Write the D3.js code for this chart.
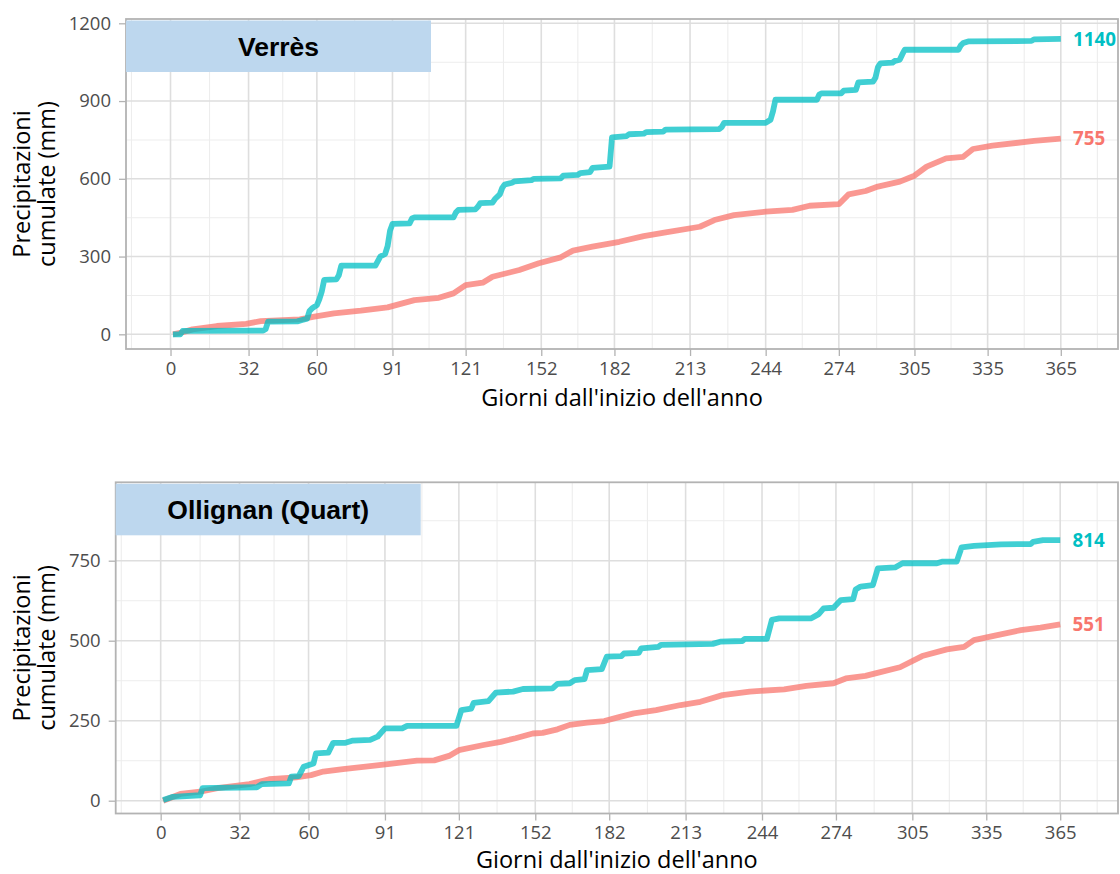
<!DOCTYPE html>
<html>
<head>
<meta charset="utf-8">
<script src="https://cdn.jsdelivr.net/npm/d3@7"></script>
<style>
  html, body { margin: 0; padding: 0; background: #ffffff; }
  svg { display: block; }
</style>
</head>
<body>
<svg id="chart" width="1120" height="874"></svg>
<script>
// Day-of-year breaks (first day of each month) used on the x axis
const dayBreaks = [0, 32, 60, 91, 121, 152, 182, 213, 244, 274, 305, 335, 365];

// Verrès: cumulative precipitation of the year (mm)
const verresObsDays = [1, 4, 5, 38, 39, 40, 52, 54, 56, 57, 58, 60, 61, 62, 63, 68, 69, 70, 84, 86, 88, 89, 90, 91, 98, 99, 100,
  116, 117, 118, 125, 126, 127, 132, 133, 135, 136, 137, 140, 141, 148, 149, 160, 161, 167, 168, 172, 173, 180, 181,
  187, 188, 194, 195, 202, 203, 225, 226, 227, 244, 245, 246, 247, 248, 265, 266, 267, 275, 276, 281, 282, 288, 289,
  290, 291, 296, 297, 299, 300, 301, 323, 324, 325, 327, 353, 354, 365];
const verresObsMm = [0, 0, 13, 14, 20, 49, 50, 55, 60, 90, 100, 113, 135, 165, 210, 212, 228, 265, 265, 300, 310, 340, 400, 426, 428, 447, 451,
  451, 470, 480, 482, 492, 506, 508, 522, 540, 565, 578, 585, 590, 595, 600, 602, 612, 615, 622, 626, 642, 647, 760,
  765, 772, 774, 780, 782, 790, 792, 800, 816, 816, 822, 828, 860, 905, 905, 925, 930, 930, 940, 943, 972, 975, 990,
  1030, 1045, 1048, 1055, 1060, 1080, 1098, 1098, 1115, 1124, 1130, 1132, 1138, 1140];

// Verrès: average cumulative precipitation (mm)
const verresAvgDays = [1, 5, 9, 19, 31, 37, 53, 59, 67, 78, 89, 100, 110, 116, 121, 128, 132, 143, 151, 160, 165, 173, 184,
  194, 203, 217, 223, 231, 244, 255, 262, 274, 278, 285, 290, 299, 305, 310, 318, 325, 329, 337, 354, 365];
const verresAvgMm = [0, 8, 19, 32, 40, 51, 58, 68, 81, 91, 104, 132, 141, 158, 190, 199, 222, 248, 274, 297, 323, 338, 357,
  379, 393, 415, 441, 460, 473, 480, 496, 502, 540, 553, 570, 589, 612, 647, 679, 685, 715, 728, 746, 755];

// Ollignan (Quart): cumulative precipitation of the year (mm)
const ollignanObsDays = [1, 5, 16, 17, 39, 41, 52, 53, 56, 58, 62, 63, 68, 70, 75, 78, 85, 88, 91, 98, 100, 120, 122, 126, 127,
  133, 136, 143, 147, 159, 161, 166, 168, 172, 173, 179, 181, 187, 188, 194, 195, 202, 203, 224, 227, 236, 237, 246,
  248, 251, 264, 267, 269, 273, 276, 281, 282, 284, 289, 291, 298, 301, 315, 317, 323, 325, 330, 341, 353, 354, 358, 365];
const ollignanObsMm = [2, 12, 17, 39, 42, 52, 54, 75, 77, 106, 116, 148, 150, 181, 181, 188, 190, 200, 226, 226, 234, 234, 283, 288, 306,
  311, 338, 341, 349, 351, 365, 367, 377, 380, 408, 411, 450, 452, 460, 462, 476, 481, 487, 490, 497, 499, 506, 506,
  565, 570, 570, 583, 601, 603, 627, 630, 660, 669, 674, 726, 729, 742, 742, 747, 747, 792, 796, 801, 802, 809, 814, 814];

// Ollignan (Quart): average cumulative precipitation (mm)
const ollignanAvgDays = [1, 8, 16, 23, 36, 44, 55, 61, 66, 74, 85, 93, 104, 111, 117, 121, 131, 138, 144, 151, 155, 161, 166,
  173, 180, 186, 192, 201, 211, 219, 228, 239, 253, 262, 273, 278, 286, 290, 300, 309, 319, 326, 330, 338, 349, 357, 365];
const ollignanAvgMm = [0, 21, 28, 39, 52, 67, 73, 80, 91, 99, 108, 115, 125, 126, 140, 158, 174, 184, 195, 210, 212, 223, 237,
  244, 249, 261, 273, 283, 299, 309, 330, 341, 348, 359, 367, 382, 390, 398, 417, 452, 473, 481, 502, 515, 533, 541, 551];

// Y breaks for each station
const verresBreaks = [0, 300, 600, 900, 1200];
const ollignanBreaks = [0, 250, 500, 750];

const xTitle = "Giorni dall'inizio dell'anno";
const yTitleLines = ["Precipitazioni", "cumulate (mm)"];

const colObs = "#00BFC4";
const colAvg = "#F8766D";

const panels = [
  {
    name: "Verrès",
    box: { left: 126, top: 19, right: 1118, bottom: 349 },
    yDomain: [-56.7, 1216.6],
    yBreaks: verresBreaks,
    obs: verresObsDays.map((d, i) => ({ day: d, mm: verresObsMm[i] })),
    avg: verresAvgDays.map((d, i) => ({ day: d, mm: verresAvgMm[i] }))
  },
  {
    name: "Ollignan (Quart)",
    box: { left: 115.7, top: 482.3, right: 1118, bottom: 813.5 },
    yDomain: [-40, 995],
    yBreaks: ollignanBreaks,
    obs: ollignanObsDays.map((d, i) => ({ day: d, mm: ollignanObsMm[i] })),
    avg: ollignanAvgDays.map((d, i) => ({ day: d, mm: ollignanAvgMm[i] }))
  }
];

const xDomain = [-18.25, 388.45];
const labelDay = 370;

// Midpoints between breaks, extended by one step on each side, kept inside the domain
function minorBreaks(b, domain) {
  const ext = [b[0] - (b[1] - b[0]), ...b, b[b.length - 1] + (b[b.length - 1] - b[b.length - 2])];
  const out = [];
  for (let i = 0; i < ext.length - 1; i++) out.push((ext[i] + ext[i + 1]) / 2);
  return out.filter(v => v > domain[0] && v < domain[1]);
}

const svg = d3.select("#chart");
const textFont = "'Open Sans', 'Noto Sans', sans-serif";

panels.forEach(p => {
  const { left, top, right, bottom } = p.box;
  const x = d3.scaleLinear().domain(xDomain).range([left, right]);
  const y = d3.scaleLinear().domain(p.yDomain).range([bottom, top]);
  const g = svg.append("g");

  // grid: minor then major
  const grid = g.append("g");
  minorBreaks(dayBreaks, xDomain).forEach(v => {
    grid.append("line").attr("x1", x(v)).attr("x2", x(v)).attr("y1", top).attr("y2", bottom)
      .attr("stroke", "#EDEDED").attr("stroke-width", 1.1);
  });
  minorBreaks(p.yBreaks, p.yDomain).forEach(v => {
    grid.append("line").attr("x1", left).attr("x2", right).attr("y1", y(v)).attr("y2", y(v))
      .attr("stroke", "#EDEDED").attr("stroke-width", 1.1);
  });
  dayBreaks.forEach(v => {
    grid.append("line").attr("x1", x(v)).attr("x2", x(v)).attr("y1", top).attr("y2", bottom)
      .attr("stroke", "#DEDEDE").attr("stroke-width", 1.6);
  });
  p.yBreaks.forEach(v => {
    grid.append("line").attr("x1", left).attr("x2", right).attr("y1", y(v)).attr("y2", y(v))
      .attr("stroke", "#DEDEDE").attr("stroke-width", 1.6);
  });

  // cumulative lines
  const line = d3.line().x(d => x(d.day)).y(d => y(d.mm));
  [[p.avg, colAvg], [p.obs, colObs]].forEach(([data, col]) => {
    g.append("path").datum(data).attr("d", line)
      .attr("fill", "none").attr("stroke", col).attr("stroke-opacity", 0.75)
      .attr("stroke-width", 5.8).attr("stroke-linejoin", "round").attr("stroke-linecap", "butt");
  });

  // final totals next to the line ends
  [[p.obs, colObs], [p.avg, colAvg]].forEach(([data, col]) => {
    const last = data[data.length - 1];
    g.append("text").attr("x", x(labelDay)).attr("y", y(last.mm)).attr("dy", "0.36em")
      .attr("text-anchor", "start").attr("font-family", textFont).attr("font-weight", 700)
      .attr("font-size", 18.8).attr("fill", col).text(d3.format("d")(last.mm));
  });

  // panel border
  g.append("rect").attr("x", left).attr("y", top).attr("width", right - left).attr("height", bottom - top)
    .attr("fill", "none").attr("stroke", "#B3B3B3").attr("stroke-width", 1.8);

  // station name box
  const bw = 305, bh = 51.5, by = top + 1.5;
  g.append("rect").attr("x", left).attr("y", by).attr("width", bw).attr("height", bh).attr("fill", "#BDD7EE");
  g.append("text").attr("x", left + bw / 2).attr("y", by + bh / 2).attr("dy", "0.36em")
    .attr("text-anchor", "middle").attr("font-family", "'Liberation Sans', Arial, sans-serif")
    .attr("font-weight", 700).attr("font-size", 26.5).attr("fill", "#000").text(p.name);

  // axes
  const yAxis = g.append("g").attr("transform", `translate(${left},0)`)
    .call(d3.axisLeft(y).tickValues(p.yBreaks).tickSize(7).tickPadding(8).tickFormat(d3.format("d")));
  const xAxis = g.append("g").attr("transform", `translate(0,${bottom})`)
    .call(d3.axisBottom(x).tickValues(dayBreaks).tickSize(7).tickPadding(5.5).tickFormat(d3.format("d")));
  [yAxis, xAxis].forEach(a => {
    a.select(".domain").remove();
    a.selectAll(".tick line").attr("stroke", "#B3B3B3").attr("stroke-width", 1.3);
    a.selectAll(".tick text").attr("fill", "#4D4D4D").attr("font-family", textFont).attr("font-size", 18.5);
  });

  // axis titles
  g.append("text").attr("x", (left + right) / 2).attr("y", Math.min(bottom + 57, 868))
    .attr("text-anchor", "middle").attr("font-family", textFont).attr("font-size", 23.5)
    .attr("fill", "#000").text(xTitle);
  const yt = g.append("text").attr("transform", `translate(0,${(top + bottom) / 2}) rotate(-90)`)
    .attr("text-anchor", "middle").attr("font-family", textFont).attr("font-size", 23.5).attr("fill", "#000");
  yTitleLines.forEach((t, i) => {
    yt.append("tspan").attr("x", 0).attr("y", i === 0 ? 21.7 : 46.7).attr("dy", "0.36em").text(t);
  });
});
</script>
</body>
</html>
